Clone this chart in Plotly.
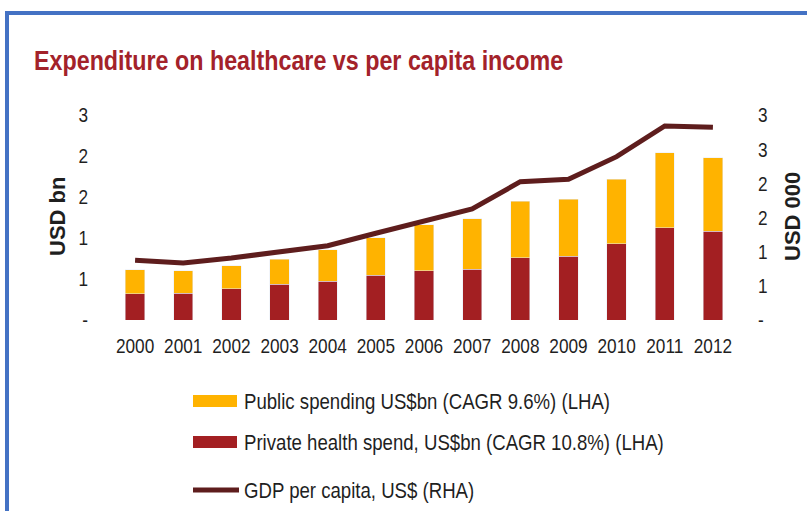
import plotly.graph_objects as go

years = ["2000", "2001", "2002", "2003", "2004", "2005", "2006",
         "2007", "2008", "2009", "2010", "2011", "2012"]
private_spend = [0.321, 0.329, 0.382, 0.435, 0.472, 0.545, 0.598,
                 0.622, 0.760, 0.777, 0.930, 1.126, 1.085]
public_spend = [0.292, 0.269, 0.280, 0.305, 0.382, 0.459, 0.561,
                0.610, 0.691, 0.695, 0.786, 0.914, 0.894]
gdp_per_capita = [0.874, 0.834, 0.907, 0.988, 1.087, 1.269, 1.439,
                  1.624, 2.024, 2.059, 2.390, 2.839, 2.820]

left_tickvals = [0, 0.5, 1.0, 1.5, 2.0, 2.5]
left_ticktext = ["-", "1", "1", "2", "2", "3"]
right_tickvals = [0, 0.5, 1.0, 1.5, 2.0, 2.5, 3.0]
right_ticktext = ["-", "1", "1", "2", "2", "3", "3"]

legend_labels = ["Public spending US$bn (CAGR 9.6%) (LHA)",
                 "Private health spend, US$bn (CAGR 10.8%) (LHA)",
                 "GDP per capita, US$ (RHA)"]

C_PUBLIC = "#FFB300"
C_PRIVATE = "#A31F22"
C_LINE = "#5E1D1D"
C_TITLE = "#A3222A"
C_TEXT = "#1F1F1F"
NARROW = "Liberation Sans Narrow, Arial Narrow, Liberation Sans, Arial, sans-serif"
BOLD = "Liberation Sans, Arial, sans-serif"

W, H = 807, 511
L, R, T, B = 111, 737, 115, 320


def px(x):
    return (x - L) / (R - L)


def py(y):
    return (B - y) / (B - T)


fig = go.Figure()
fig.add_trace(go.Bar(x=years, y=private_spend, marker_color=C_PRIVATE,
                     name=legend_labels[1], yaxis="y"))
fig.add_trace(go.Bar(x=years, y=public_spend, marker_color=C_PUBLIC,
                     name=legend_labels[0], yaxis="y"))
fig.add_trace(go.Scatter(x=years, y=gdp_per_capita, mode="lines",
                         line=dict(color=C_LINE, width=5),
                         name=legend_labels[2], yaxis="y2"))

shapes = []
# outer blue frame
shapes.append(dict(type="rect", xref="paper", yref="paper",
                   x0=px(7), x1=px(900), y0=py(600), y1=py(13),
                   line=dict(color="#4472C4", width=4), layer="below"))

# custom legend
rows_y = [401, 442, 490]
shapes.append(dict(type="rect", xref="paper", yref="paper",
                   x0=px(193), x1=px(237), y0=py(rows_y[0] + 6), y1=py(rows_y[0] - 6),
                   fillcolor=C_PUBLIC, line=dict(width=0)))
shapes.append(dict(type="rect", xref="paper", yref="paper",
                   x0=px(193), x1=px(237), y0=py(rows_y[1] + 6), y1=py(rows_y[1] - 6),
                   fillcolor=C_PRIVATE, line=dict(width=0)))
shapes.append(dict(type="line", xref="paper", yref="paper",
                   x0=px(193), x1=px(239), y0=py(rows_y[2]), y1=py(rows_y[2]),
                   line=dict(color=C_LINE, width=5)))

annotations = []
for lab, yy in zip(legend_labels, rows_y):
    annotations.append(dict(text=lab, xref="paper", yref="paper",
                            x=px(242), y=py(yy), xanchor="left", yanchor="middle",
                            align="left", showarrow=False,
                            font=dict(family=NARROW, size=22.7, color=C_TEXT)))

annotations.append(dict(text="<b>USD bn</b>", xref="paper", yref="paper",
                        x=px(57), y=py(217), xanchor="center", yanchor="middle",
                        textangle=-90, showarrow=False,
                        font=dict(family=BOLD, size=22, color=C_TEXT)))
annotations.append(dict(text="<b>USD 000</b>", xref="paper", yref="paper",
                        x=px(792), y=py(217), xanchor="center", yanchor="middle",
                        textangle=-90, showarrow=False,
                        font=dict(family=BOLD, size=22, color=C_TEXT)))

fig.update_layout(
    width=W, height=H,
    margin=dict(l=L, r=W - R, t=T, b=H - B, pad=0),
    paper_bgcolor="white", plot_bgcolor="white",
    barmode="stack", bargap=0.6,
    showlegend=False,
    title=dict(text="<b>Expenditure on healthcare vs per capita income</b>",
               x=34 / W, xanchor="left", xref="container",
               y=1 - 60 / H, yanchor="middle", yref="container",
               font=dict(family=NARROW, size=28.4, color=C_TITLE)),
    xaxis=dict(type="category", showgrid=False, showline=False, zeroline=False,
               ticks="", ticklabelstandoff=11, tickangle=0,
               tickfont=dict(family=NARROW, size=21, color=C_TEXT)),
    yaxis=dict(range=[0, 2.5], tickvals=left_tickvals, ticktext=left_ticktext,
               showgrid=False, zeroline=False, showline=False, ticks="",
               ticklabelstandoff=22,
               tickfont=dict(family=NARROW, size=21, color=C_TEXT)),
    yaxis2=dict(range=[0, 3.0], tickvals=right_tickvals, ticktext=right_ticktext,
                overlaying="y", side="right",
                showgrid=False, zeroline=False, showline=False, ticks="",
                ticklabelstandoff=20,
                tickfont=dict(family=NARROW, size=21, color=C_TEXT)),
    shapes=shapes,
    annotations=annotations,
)

# Emulate a narrow (condensed) typeface: compress text set in the narrow family
post_js = """
(function(){
  var gd = document.getElementById('{plot_id}');
  function squeeze(){
    var ts = gd.querySelectorAll('text');
    ts.forEach(function(t){
      var fam = (t.style && t.style.fontFamily) || t.getAttribute('style') || '';
      if (fam.indexOf('Narrow') < 0) return;
      if (t.getAttribute('data-sq') === t.textContent) return;
      t.removeAttribute('textLength');
      var w = t.getComputedTextLength();
      if (w > 0) {
        t.setAttribute('textLength', (w * 0.82).toFixed(2));
        t.setAttribute('lengthAdjust', 'spacingAndGlyphs');
        t.setAttribute('data-sq', t.textContent);
      }
    });
  }
  squeeze();
  if (gd.on) { gd.on('plotly_afterplot', squeeze); }
  setTimeout(squeeze, 50);
})();
"""

fig.write_html("out.html", post_script=post_js)
